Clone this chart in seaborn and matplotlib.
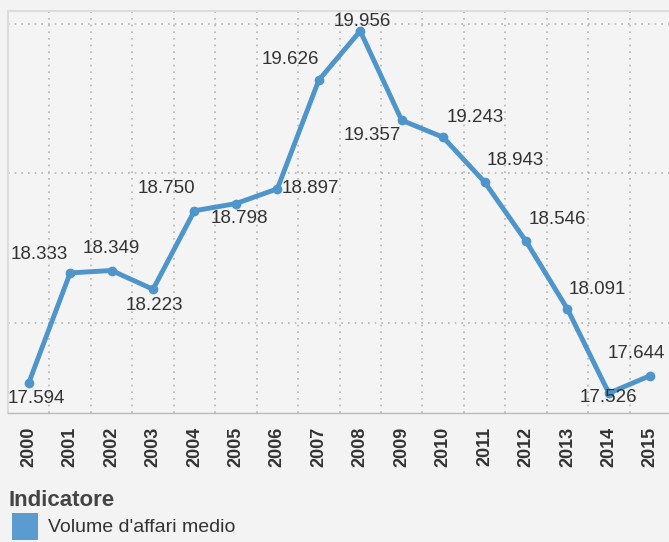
import numpy as np
import pandas as pd
import seaborn as sns
import matplotlib.pyplot as plt
from matplotlib.patches import Rectangle

# Data
years = [2000, 2001, 2002, 2003, 2004, 2005, 2006, 2007,
         2008, 2009, 2010, 2011, 2012, 2013, 2014, 2015]
values = [17.594, 18.333, 18.349, 18.223, 18.750, 18.798, 18.897, 19.626,
          19.956, 19.357, 19.243, 18.943, 18.546, 18.091, 17.526, 17.644]
series_name = "Volume d'affari medio"
legend_title = "Indicatore"

# label offsets (pixels) so the numbers sit like in the original
label_offsets = [(8, -15), (-31, 18), (0, 22), (1, -16), (-28, 22), (3, -15),
                 (33, 0), (-28, 21), (2, 9), (-29, -15), (32, 20), (31, 21),
                 (31, 22), (30, 19), (0, -4), (-14, 22)]

df = pd.DataFrame({"Anno": years, "Valore": values})

sns.set_theme(style="white")
plt.rcParams['font.family'] = ['Liberation Sans', 'DejaVu Sans']

line_color = '#4e95cc'
text_color = '#333333'

fig = plt.figure(figsize=(6.69, 5.42), dpi=100)
fig.patch.set_facecolor('#f3f3f3')
ax = fig.add_axes([8 / 669, (542 - 413) / 542, 663 / 669, 402 / 542])
ax.set_facecolor('#f4f4f4')

sns.lineplot(data=df, x="Anno", y="Valore", ax=ax, color=line_color,
             linewidth=3.5, marker='o', markersize=7, markeredgewidth=0)

for yr, v, (dx, dy) in zip(years, values, label_offsets):
    ax.annotate(f"{v:.3f}", xy=(yr, v), xytext=(dx, dy), textcoords='offset pixels',
                ha='center', va='center', fontsize=13.5, color=text_color)

ax.set_xlim(years[0] - 0.5, years[-1] + 0.5)
ax.set_ylim(17.393, 20.09)

ax.set_xticks(years)
ax.set_xticklabels([str(y) for y in years], rotation=90, fontsize=13,
                   fontweight='bold', color=text_color)
ax.set_xticks(np.arange(years[0] - 0.5, years[-1] + 1.5, 1), minor=True)
ax.tick_params(axis='x', which='major', length=0, pad=10)
ax.tick_params(axis='x', which='minor', length=6, color='#bbbbbb', width=1)
ax.set_yticks([18, 19, 20])
ax.set_yticklabels([])
ax.tick_params(axis='y', length=0)

ax.grid(False)
ax.yaxis.grid(True, which='major', linestyle=(0, (1, 3)), color='#b5b5b5', linewidth=1.2)
ax.xaxis.grid(True, which='minor', linestyle=(0, (1, 3)), color='#b5b5b5', linewidth=1.2)
ax.set_xlabel("")
ax.set_ylabel("")

for side in ['top', 'left', 'right']:
    ax.spines[side].set_color('#dddddd')
    ax.spines[side].set_linewidth(1.5)
ax.spines['bottom'].set_color('#bbbbbb')
ax.spines['bottom'].set_linewidth(1)

# legend drawn by hand, Tableau style
fig.text(8 / 669, 1 - 500 / 542, legend_title, fontsize=16, fontweight='bold',
         color='#444444', ha='left', va='center')
fig.add_artist(Rectangle((12 / 669, 1 - 540 / 542), 26 / 669, 27 / 542,
                         transform=fig.transFigure, facecolor='#5a9bd0',
                         edgecolor='none'))
fig.text(48 / 669, 1 - 527 / 542, series_name, fontsize=14,
         color=text_color, ha='left', va='center')

fig.savefig("out.png", dpi=100, facecolor=fig.get_facecolor())
